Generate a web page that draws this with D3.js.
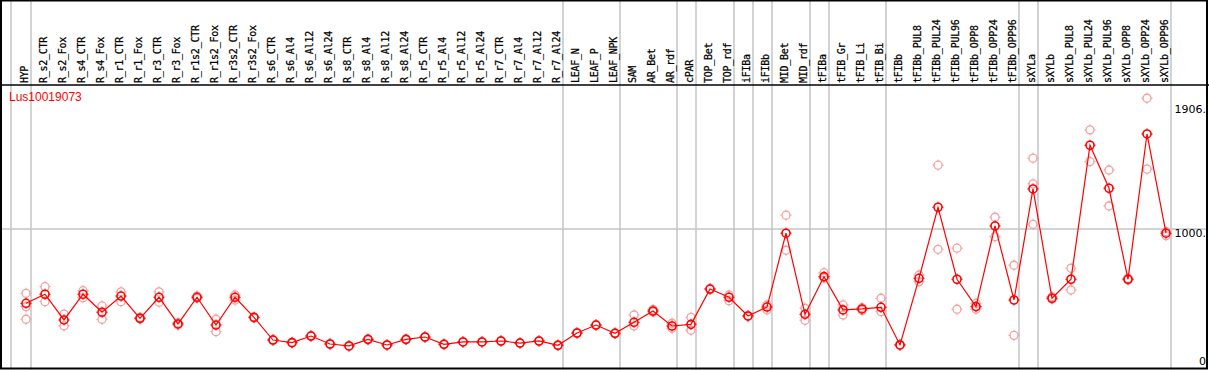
<!DOCTYPE html>
<html>
<head>
<meta charset="utf-8">
<script src="https://cdn.jsdelivr.net/npm/d3@7"></script>
<style>
  html, body { margin: 0; padding: 0; background: #fff; }
  svg { display: block; }
</style>
</head>
<body>
<svg id="chart" width="1209" height="370"></svg>
<script>
const geneId = 'Lus10019073';

const categories = [
  'HYP', 'R_s2_CTR', 'R_s2_Fox', 'R_s4_CTR', 'R_s4_Fox', 'R_r1_CTR', 'R_r1_Fox',
  'R_r3_CTR', 'R_r3_Fox', 'R_r1s2_CTR', 'R_r1s2_Fox', 'R_r3s2_CTR', 'R_r3s2_Fox',
  'R_s6_CTR', 'R_s6_Al4', 'R_s6_Al12', 'R_s6_Al24', 'R_s8_CTR', 'R_s8_Al4',
  'R_s8_Al12', 'R_s8_Al24', 'R_r5_CTR', 'R_r5_Al4', 'R_r5_Al12', 'R_r5_Al24',
  'R_r7_CTR', 'R_r7_Al4', 'R_r7_Al12', 'R_r7_Al24', 'LEAF_N', 'LEAF_P', 'LEAF_NPK',
  'SAM', 'AR_Bet', 'AR_rdf', 'cPAR', 'TOP_Bet', 'TOP_rdf', 'iFIBa', 'iFIBb',
  'MID_Bet', 'MID_rdf', 'tFIBa', 'tFIB_Gr', 'tFIB_Li', 'tFIB_Bi', 'tFIBb',
  'tFIBb_PUL8', 'tFIBb_PUL24', 'tFIBb_PUL96', 'tFIBb_OPP8', 'tFIBb_OPP24', 'tFIBb_OPP96',
  'sXYLa', 'sXYLb', 'sXYLb_PUL8', 'sXYLb_PUL24', 'sXYLb_PUL96', 'sXYLb_OPP8',
  'sXYLb_OPP24', 'sXYLb_OPP96'
];

// mean expression per sample
const means = [
  456, 522, 335, 522, 391, 509, 347, 500, 306, 500, 298, 500, 354,
  189, 170, 218, 160, 146, 194, 153, 194, 211, 158, 175, 175, 182, 167, 182, 151,
  240, 298, 238, 318, 400, 291, 303, 560, 500, 364, 429, 966, 376, 650, 408, 415, 427,
  153, 638, 1155, 631, 432, 1019, 480, 1288, 493, 631, 1606, 1293, 631, 1688, 966
];

// individual replicates per sample
const replicates = [
  [529, 432, 340], [577, 468], [378, 291], [548, 497], [437, 340], [539, 468],
  [354, 342], [539, 464], [313, 298], [509, 493], [340, 250], [517, 480], [354, 350],
  [192, 186], [172, 168], [221, 215], [162, 158], [148, 144], [196, 192], [155, 151],
  [196, 192], [213, 209], [160, 156], [177, 173], [177, 173], [184, 180], [169, 165],
  [184, 180], [153, 149], [243, 237], [301, 295], [241, 235], [371, 291], [411, 393],
  [311, 274], [354, 260], [563, 557], [517, 475], [368, 360], [444, 408], [1097, 842],
  [420, 333], [679, 640], [444, 371], [424, 404], [493, 395], [156, 150], [662, 614],
  [1461, 849], [857, 413], [456, 413], [1082, 941], [733, 223], [1512, 1325, 1031],
  [504, 488], [711, 553], [1718, 1487], [1426, 1164], [638, 626], [1948, 1432], [977, 948]
];

// a separator is drawn after each of these samples
const groupEnds = [
  'HYP', 'R_r7_Al24', 'LEAF_NPK', 'AR_rdf', 'cPAR', 'TOP_rdf', 'iFIBa', 'iFIBb',
  'MID_rdf', 'tFIBa', 'tFIB_Bi', 'tFIBb_OPP96', 'sXYLa', 'sXYLb_OPP96'
];

const yTicks = [0, 1000, 1906];
const yTickLabels = ['0', '1000.', '1906.'];
const gridValues = [1000];

const W = 1209, H = 370;
const headerBottom = 85;
const svg = d3.select('#chart');

const x = d3.scalePoint().domain(categories).range([26, 1166]);
const y = d3.scaleLinear().domain([0, 1906]).range([366, 104]);
const step = x.step();

// group separators (full height)
const sepX = [x(categories[0]) - step + 4].concat(groupEnds.map(c => x(c) + 5));
svg.append('g').selectAll('line').data(sepX).enter().append('line')
  .attr('x1', d => d).attr('x2', d => d)
  .attr('y1', 0).attr('y2', H)
  .attr('stroke', '#c4c4c4').attr('stroke-width', 1.5);

// horizontal grid
svg.append('g').selectAll('line').data(gridValues).enter().append('line')
  .attr('x1', 0).attr('x2', W - 2)
  .attr('y1', d => y(d) + 0.5).attr('y2', d => y(d) + 0.5)
  .attr('stroke', '#c4c4c4').attr('stroke-width', 1.5);

// frame + header line
svg.append('rect')
  .attr('x', 1).attr('y', 0.5).attr('width', W - 3).attr('height', H - 2)
  .attr('fill', 'none').attr('stroke', '#000').attr('stroke-width', 2);
svg.append('line')
  .attr('x1', 0).attr('x2', W).attr('y1', headerBottom).attr('y2', headerBottom)
  .attr('stroke', '#000').attr('stroke-width', 1.5);

// sample labels, rotated
svg.append('g').selectAll('text').data(categories).enter().append('text')
  .attr('transform', d => `translate(${x(d) + 2},83) rotate(-90)`)
  .attr('font-family', 'DejaVu Sans Mono, monospace')
  .attr('font-size', 10)
  .attr('textLength', d => d.length * 5.8)
  .attr('fill', '#000')
  .attr('stroke', '#000')
  .attr('stroke-width', 0.25)
  .text(d => d);

// right axis labels
svg.append('g').selectAll('text').data(yTicks).enter().append('text')
  .attr('x', 1206)
  .attr('y', d => Math.min(y(d) + 8.5, 365))
  .attr('text-anchor', 'end')
  .attr('font-family', 'DejaVu Sans, sans-serif')
  .attr('font-size', 11)
  .attr('fill', '#000')
  .text((d, i) => yTickLabels[i]);

// title
svg.append('text')
  .attr('x', 9).attr('y', 100.5)
  .attr('font-family', 'Liberation Sans, Arial, sans-serif')
  .attr('font-size', 12)
  .attr('fill', '#ff0000')
  .text(geneId);

function marker(g, cx, cy, color, sw) {
  const r = 4;
  g.append('circle').attr('cx', cx).attr('cy', cy).attr('r', r)
    .attr('fill', 'none').attr('stroke', color).attr('stroke-width', sw);
  [[0, -1], [0, 1], [-1, 0], [1, 0]].forEach(([dx, dy]) => {
    g.append('line')
      .attr('x1', cx + dx * r).attr('y1', cy + dy * r)
      .attr('x2', cx + dx * (r + 1.6)).attr('y2', cy + dy * (r + 1.6))
      .attr('stroke', color).attr('stroke-width', 1);
  });
}

// replicate points
const repG = svg.append('g');
categories.forEach((c, i) => {
  replicates[i].forEach(v => marker(repG, x(c), y(v), '#f2a0a0', 1.3));
});

// mean line
const line = d3.line().x((d, i) => x(categories[i])).y(d => y(d));
svg.append('path').datum(means)
  .attr('d', line)
  .attr('fill', 'none').attr('stroke', '#ff0000').attr('stroke-width', 1.2);

// mean points
const meanG = svg.append('g');
categories.forEach((c, i) => marker(meanG, x(c), y(means[i]), '#ff0000', 1.6));
</script>
</body>
</html>
